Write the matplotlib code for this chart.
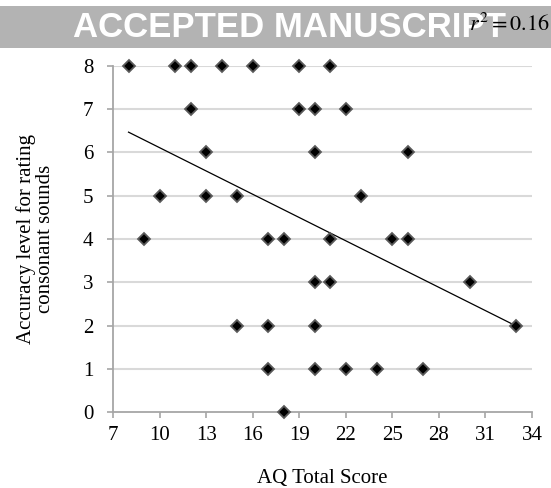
import numpy as np
import matplotlib
matplotlib.use("Agg")
import matplotlib.pyplot as plt
from matplotlib.patches import Rectangle

# AQ score of each participant, grouped by accuracy level
aq_scores = [8, 11, 12, 14, 16, 19, 21,
             12, 19, 20, 22,
             13, 20, 26,
             10, 13, 15, 23,
             9, 17, 18, 21, 25, 26,
             20, 21, 30,
             15, 17, 20, 33,
             17, 20, 22, 24, 27,
             18]
accuracy = [8] * 7 + [7] * 4 + [6] * 3 + [5] * 4 + [4] * 6 + [3] * 3 + [2] * 4 + [1] * 5 + [0]
x_ticks = [7, 10, 13, 16, 19, 22, 25, 28, 31, 34]
y_ticks = [0, 1, 2, 3, 4, 5, 6, 7, 8]

plt.rcParams['font.family'] = ['Liberation Serif', 'DejaVu Serif']
plt.rcParams['mathtext.fontset'] = 'stix'

fig = plt.figure(figsize=(5.51, 4.88), dpi=100)
ax = fig.add_axes([0.2051, 0.1557, 0.7604, 0.7091])

grid_col = '#d9d9d9'
spine_col = '#a6a6a6'

for yv in y_ticks[1:]:
    ax.axhline(yv, color=grid_col, lw=1.5, zorder=1)

ax.plot(aq_scores, accuracy, linestyle='none', marker='D', markersize=6,
        markerfacecolor='black', markeredgecolor='#5a5a5a', markeredgewidth=1.3,
        zorder=3, clip_on=False)

# linear trendline
slope, intercept = np.polyfit(aq_scores, accuracy, 1)
xs = np.array([min(aq_scores), max(aq_scores)])
ax.plot(xs, slope * xs + intercept, color='black', lw=0.9, zorder=2)

ax.set_xlim(7, 34)
ax.set_ylim(0, 8)
ax.set_xticks(x_ticks)
ax.set_yticks(y_ticks)
for s in ['top', 'right']:
    ax.spines[s].set_visible(False)
for s in ['left', 'bottom']:
    ax.spines[s].set_color(spine_col)
    ax.spines[s].set_linewidth(1.3)
    ax.spines[s].set_zorder(2)
ax.tick_params(axis='both', direction='out', length=4, width=1.2, color=spine_col,
               labelsize=15, pad=6)
ax.tick_params(axis='y', pad=10)

ax.set_xlabel('AQ Total Score', fontsize=15, labelpad=17)
ax.set_ylabel('Accuracy level for rating\nconsonant sounds', fontsize=15, labelpad=20,
              linespacing=1.0)

# banner
fig.patches.append(Rectangle((0, 0.9016), 1, 0.0861, transform=fig.transFigure,
                             facecolor='#b3b3b3', edgecolor='none', zorder=0))
fig.text(0.526, 0.944, 'ACCEPTED MANUSCRIPT', color='white', fontsize=25,
         fontweight='bold', family=['Liberation Sans', 'DejaVu Sans'],
         ha='center', va='center')
fig.text(0.997, 0.949, r'$r^2 = 0.16$', fontsize=16, ha='right', va='center')

fig.savefig('out.png', dpi=100)
